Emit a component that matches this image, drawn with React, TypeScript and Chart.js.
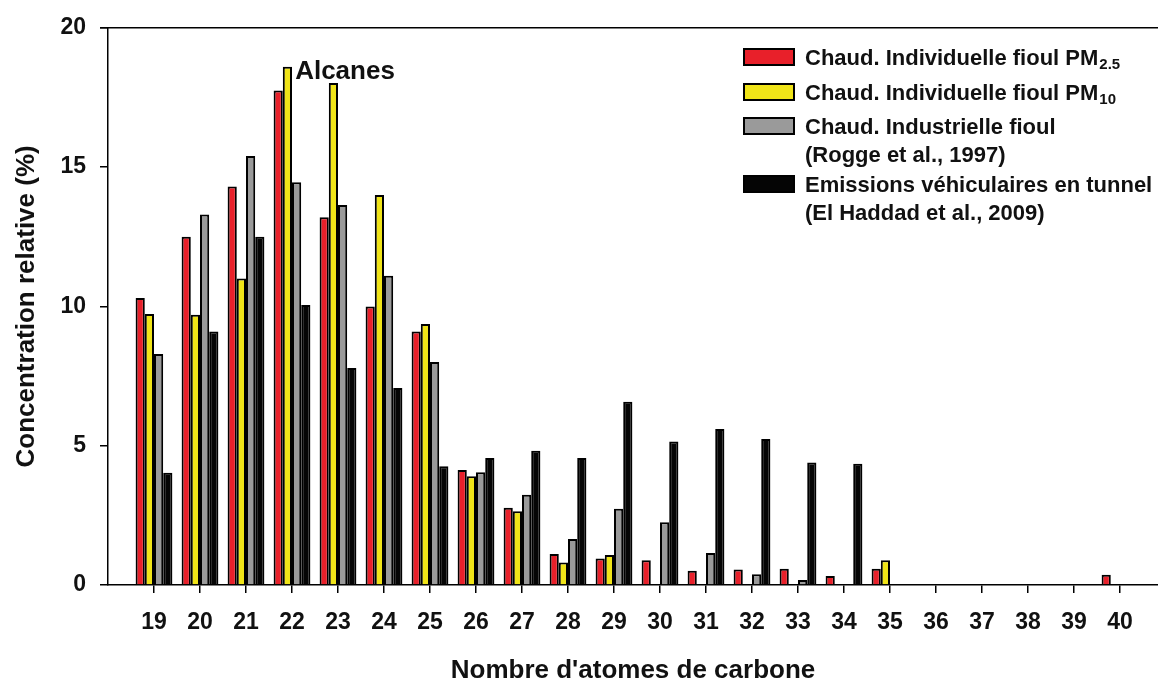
import React, { useEffect, useRef } from "react";
import { Chart, registerables } from "chart.js";

Chart.register(...registerables);

// ---- Data ----
const carbonNumbers = [19, 20, 21, 22, 23, 24, 25, 26, 27, 28, 29, 30, 31, 32, 33, 34, 35, 36, 37, 38, 39, 40];

const pm25Values = [10.3, 12.5, 14.3, 17.75, 13.2, 10.0, 9.1, 4.13, 2.77, 1.11, 0.95, 0.89, 0.51, 0.56, 0.58, 0.32, 0.58, null, null, null, null, 0.37];
const pm10Values = [9.73, 9.7, 11.0, 18.6, 18.02, 14.0, 9.37, 3.9, 2.65, 0.81, 1.08, null, null, null, null, null, 0.89, null, null, null, null, null];
const industrialValues = [8.29, 13.3, 15.4, 14.46, 13.64, 11.1, 8.0, 4.05, 3.24, 1.65, 2.74, 2.25, 1.15, 0.39, 0.18, null, null, null, null, null, null, null];
const tunnelValues = [4.03, 9.1, 12.5, 10.05, 7.79, 7.07, 4.26, 4.56, 4.82, 4.56, 6.58, 5.15, 5.6, 5.24, 4.4, 4.35, null, null, null, null, null, null];

const yTickValues = [0, 5, 10, 15, 20];

const seriesColors = ["#E8202A", "#F0E418", "#9A9A9A", "#050505"];
const legendLines = [
  { main: "Chaud. Individuelle fioul PM", sub: "2.5", box: 0 },
  { main: "Chaud. Individuelle fioul PM", sub: "10", box: 1 },
  { main: "Chaud. Industrielle fioul", sub: "", box: 2 },
  { main: "(Rogge et al., 1997)", sub: "", box: -1 },
  { main: "Emissions véhiculaires en tunnel", sub: "", box: 3 },
  { main: "(El Haddad et al., 2009)", sub: "", box: -1 },
];
const seriesNames = [
  "Chaud. Individuelle fioul PM2.5",
  "Chaud. Individuelle fioul PM10",
  "Chaud. Industrielle fioul (Rogge et al., 1997)",
  "Emissions véhiculaires en tunnel (El Haddad et al., 2009)",
];
const annotationText = "Alcanes";
const xTitle = "Nombre d'atomes de carbone";
const yTitle = "Concentration relative (%)";

const FONT = "'Liberation Sans', Arial, Helvetica, sans-serif";

const framePlugin = {
  id: "framePlugin",
  afterDraw(chart: any) {
    const { ctx, chartArea } = chart;
    ctx.save();
    ctx.strokeStyle = "#000";
    ctx.lineWidth = 1.5;
    ctx.beginPath();
    ctx.moveTo(chartArea.left - 8, chartArea.top);
    ctx.lineTo(chartArea.right, chartArea.top);
    ctx.stroke();

    // annotation
    ctx.fillStyle = "#111";
    ctx.font = `bold 26px ${FONT}`;
    ctx.textAlign = "center";
    ctx.textBaseline = "middle";
    ctx.fillText(annotationText, 345, 72);

    // legend
    const lineYs = [57, 92, 126, 154, 184, 212];
    legendLines.forEach((ln, i) => {
      const y = lineYs[i];
      if (ln.box >= 0) {
        ctx.fillStyle = seriesColors[ln.box];
        ctx.fillRect(744, y - 8, 50, 16);
        ctx.strokeStyle = "#000";
        ctx.lineWidth = 2;
        ctx.strokeRect(744, y - 8, 50, 16);
      }
      ctx.fillStyle = "#111";
      ctx.font = `bold 22px ${FONT}`;
      ctx.textAlign = "left";
      ctx.textBaseline = "alphabetic";
      const baseline = y + 8;
      ctx.fillText(ln.main, 805, baseline);
      if (ln.sub) {
        const w = ctx.measureText(ln.main).width;
        ctx.font = `bold 15px ${FONT}`;
        ctx.fillText(ln.sub, 805 + w + 1, baseline + 4);
      }
    });
    ctx.restore();
  },
};

export default function App() {
  const ref = useRef<HTMLCanvasElement>(null);

  useEffect(() => {
    const canvas = ref.current;
    if (!canvas) return;
    const toPoints = (vals: (number | null)[]) =>
      carbonNumbers.map((c, i) => ({ x: c, y: vals[i] }));
    const allSeries = [pm25Values, pm10Values, industrialValues, tunnelValues];

    const chart = new Chart(canvas, {
      type: "bar",
      data: {
        datasets: allSeries.map((vals, i) => ({
          label: seriesNames[i],
          data: toPoints(vals) as any,
          backgroundColor: seriesColors[i],
          borderColor: "#000",
          borderWidth: 2,
          categoryPercentage: 0.8,
          barPercentage: 1.0,
        })),
      },
      options: {
        animation: false,
        responsive: false,
        devicePixelRatio: 1,
        layout: { padding: { top: 25, right: 0, bottom: 0, left: 0 } },
        plugins: {
          legend: { display: false },
          tooltip: { enabled: false },
        },
        scales: {
          x: {
            type: "linear",
            min: 18,
            max: 18 + 1050 / 46,
            offset: false,
            afterBuildTicks: (scale: any) => {
              scale.ticks = carbonNumbers.map((v) => ({ value: v }));
            },
            afterFit: (scale: any) => {
              scale.height = 97;
            },
            grid: {
              offset: false,
              display: true,
              drawOnChartArea: false,
              drawTicks: true,
              tickLength: 8,
              color: "#000",
              lineWidth: 1.5,
            },
            border: { display: true, color: "#000", width: 1.5 },
            ticks: {
              autoSkip: false,
              maxRotation: 0,
              padding: 16,
              color: "#111",
              font: { family: FONT, size: 23, weight: "bold" },
              callback: (v: any) => String(v),
            },
            title: {
              display: true,
              text: xTitle,
              color: "#111",
              font: { family: FONT, size: 26, weight: "bold" },
              padding: { top: 0, bottom: -4 },
            },
          },
          y: {
            min: 0,
            max: 20,
            afterBuildTicks: (scale: any) => {
              scale.ticks = yTickValues.map((v) => ({ value: v }));
            },
            afterFit: (scale: any) => {
              scale.width = 108;
            },
            grid: {
              display: true,
              drawOnChartArea: false,
              drawTicks: true,
              tickLength: 8,
              color: "#000",
              lineWidth: 1.5,
            },
            border: { display: true, color: "#000", width: 1.5 },
            ticks: {
              padding: 14,
              color: "#111",
              font: { family: FONT, size: 23, weight: "bold" },
            },
            title: {
              display: true,
              text: yTitle,
              color: "#111",
              font: { family: FONT, size: 26, weight: "bold" },
              padding: { top: 11, bottom: 0 },
            },
          },
        },
      } as any,
      plugins: [framePlugin],
    });
    return () => chart.destroy();
  }, []);

  return (
    <div
      style={{
        position: "fixed",
        left: 0,
        top: 0,
        width: 1158,
        height: 682,
        background: "#fff",
        overflow: "hidden",
      }}
    >
      <canvas ref={ref} width={1158} height={682} style={{ display: "block", width: 1158, height: 682 }} />
    </div>
  );
}
